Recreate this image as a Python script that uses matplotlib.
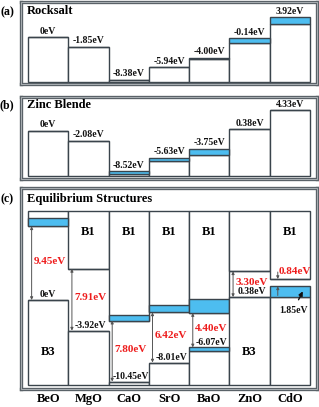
import matplotlib
matplotlib.use('Agg')
import matplotlib.pyplot as plt
from matplotlib.patches import Rectangle
import numpy as np

plt.rcParams['font.family'] = ['Liberation Serif', 'DejaVu Serif']
plt.rcParams['font.weight'] = 'bold'

oxides = ['BeO', 'MgO', 'CaO', 'SrO', 'BaO', 'ZnO', 'CdO']

# (a) rocksalt and (b) zinc blende: level (eV) and thickness of blue band below it
rs_level = [0.00, -1.85, -8.38, -5.94, -4.00, -0.14, 3.92]
rs_band = [0.0, 0.0, 0.0, 0.0, 0.35, 1.05, 1.25]
zb_level = [0.00, -2.08, -8.52, -5.63, -3.75, 0.38, 4.33]
zb_band = [0.0, 0.0, 0.6, 0.75, 1.3, 0.0, 0.0]

# (c) equilibrium structures
eq_vbm = [0.00, -3.92, -10.45, -8.01, -6.07, 0.38, 1.85]
eq_gap = [9.45, 7.91, 7.80, 6.42, 4.40, 3.30, 0.84]
eq_cb_band = [1.05, 0.0, 0.73, 0.95, 1.8, 0.0, 0.0]   # blue above CBM
eq_vb_band = [0.0, 0.0, 0.0, 0.0, 0.47, 0.0, 1.47]    # blue below VBM
eq_upper = ['', 'B1', 'B1', 'B1', 'B1', '', 'B1']
eq_lower = ['B3', '', '', '', '', 'B3', '']

EDGE = '#3a444c'
BLUE = '#4dbdf0'
FRAME = '#5a6268'

fig = plt.figure(figsize=(3.19, 4.07), dpi=100)
fig.patch.set_facecolor('white')

x0 = np.arange(len(oxides))


def frame(ax):
    for s in ax.spines.values():
        s.set_color(FRAME)
        s.set_linewidth(2.4)
    ax.add_patch(Rectangle((0, 0), 1, 1, transform=ax.transAxes, fill=False,
                           ec='#c8cdd0', lw=0.5, clip_on=False, zorder=10))
    ax.set_xlim(-0.174, 7.174)
    ax.tick_params(length=0)
    ax.set_yticks([])


def fmt(v):
    return '0eV' if v == 0 else f'{v:.2f}eV'


def steps(ax, level, band, base):
    lev = np.array(level)
    bd = np.array(band)
    ax.bar(x0, lev - bd - base, bottom=base, width=1, align='edge',
           color='white', edgecolor=EDGE, linewidth=1.0, zorder=2)
    ax.bar(x0, bd, bottom=lev - bd, width=1, align='edge',
           color=BLUE, edgecolor=EDGE, linewidth=1.0, zorder=2)
    for i, v in enumerate(level):
        ax.annotate(fmt(v), (i + 0.5, v), xytext=(0, 1), textcoords='offset points',
                    ha='center', va='bottom', fontsize=7.0, color='#111111')


# ---- (a)
ax1 = fig.add_axes([0.0658, 0.7936, 0.928, 0.2015])
frame(ax1)
ax1.set_ylim(-9.23, 6.98)
ax1.set_xticks([])
steps(ax1, rs_level, rs_band, -8.9)
ax1.text(0.02, 0.89, 'Rocksalt', transform=ax1.transAxes, fontsize=9, va='center')
fig.text(0.022, 1 - 12 / 407, '(a)', fontsize=8.5, ha='center', va='center')

# ---- (b)
ax2 = fig.add_axes([0.0658, 0.5614, 0.928, 0.2002])
frame(ax2)
ax2.set_ylim(-10.0, 7.05)
ax2.set_xticks([])
steps(ax2, zb_level, zb_band, -9.5)
ax2.text(0.02, 0.90, 'Zinc Blende', transform=ax2.transAxes, fontsize=9, va='center')
fig.text(0.022, 1 - 105 / 407, '(b)', fontsize=8.5, ha='center', va='center')

# ---- (c)
ax3 = fig.add_axes([0.0658, 0.043, 0.928, 0.4939])
frame(ax3)
ax3.set_ylim(-11.47, 14.3)
top, bottom = 11.4, -10.9
vbm = np.array(eq_vbm)
cbm = vbm + np.array(eq_gap)
cbb = np.array(eq_cb_band)
vbb = np.array(eq_vb_band)

ax3.bar(x0, top - cbm, bottom=cbm, width=1, align='edge',
        color='white', edgecolor=EDGE, linewidth=1.0, zorder=2)
ax3.bar(x0, cbb, bottom=cbm, width=1, align='edge',
        color=BLUE, edgecolor=EDGE, linewidth=1.0, zorder=2)
ax3.bar(x0, vbm - vbb - bottom, bottom=bottom, width=1, align='edge',
        color='white', edgecolor=EDGE, linewidth=1.0, zorder=2)
ax3.bar(x0, vbb, bottom=vbm - vbb, width=1, align='edge',
        color=BLUE, edgecolor=EDGE, linewidth=1.0, zorder=2)

gap_arrow = dict(arrowstyle='<|-|>', color='#555555', lw=0.7, mutation_scale=4,
                 shrinkA=0, shrinkB=0)
for i in range(len(oxides)):
    if eq_upper[i]:
        ax3.text(i + 0.5, 8.7, eq_upper[i], ha='center', va='center', fontsize=9, zorder=4)
    if eq_lower[i]:
        ax3.text(i + 0.5, -6.67, eq_lower[i], ha='center', va='center', fontsize=9, zorder=4)
    if i < 6:
        ax3.annotate('', xy=(i + 0.09, vbm[i]), xytext=(i + 0.09, cbm[i]),
                     arrowprops=gap_arrow, zorder=5)
        ax3.annotate(f'{eq_gap[i]:.2f}eV', ((i + 0.55), (vbm[i] + cbm[i]) / 2),
                     xytext=(0, 1.5), textcoords='offset points',
                     ha='center', va='center', fontsize=8, color='#ee1c1c', zorder=5)
        ax3.annotate(fmt(eq_vbm[i]), (i + 0.55 if i else i + 0.48, vbm[i]),
                     xytext=(0, 0.5), textcoords='offset points',
                     ha='center', va='bottom', fontsize=7.0, color='#111111', zorder=5)

# CdO: tiny gap marked with outside arrows
c = 6
small = dict(arrowstyle='-|>', color='#555555', lw=0.7, mutation_scale=4,
             shrinkA=0, shrinkB=0)
ax3.annotate('', xy=(c + 0.2, cbm[c]), xytext=(c + 0.2, cbm[c] + 0.9),
             arrowprops=small, zorder=5)
ax3.annotate('', xy=(c + 0.2, vbm[c] - 0.1), xytext=(c + 0.2, vbm[c] - vbb[c] + 0.2),
             arrowprops=small, zorder=5)
ax3.annotate(f'{eq_gap[c]:.2f}eV', (c + 0.63, cbm[c]), xytext=(0, 2.5),
             textcoords='offset points', ha='center', va='bottom',
             fontsize=8, color='#ee1c1c', zorder=5)
ax3.annotate(fmt(eq_vbm[c]), xy=(c + 0.82, vbm[c] - vbb[c] / 2), xytext=(-7, -14),
             textcoords='offset points', ha='center', va='center', fontsize=7.0,
             color='#111111', zorder=5,
             arrowprops=dict(arrowstyle='-|>', color='#111111', lw=1.0,
                             mutation_scale=6, shrinkA=3, shrinkB=0))

ax3.set_xticks(x0 + 0.5)
ax3.set_xticklabels(oxides, fontsize=9)
ax3.tick_params(axis='x', pad=2.5)
ax3.text(0.02, 0.948, 'Equilibrium Structures', transform=ax3.transAxes,
         fontsize=9, va='center')
fig.text(0.022, 1 - 199 / 407, '(c)', fontsize=8.5, ha='center', va='center')

fig.savefig('out.png', dpi=100, facecolor='white')
